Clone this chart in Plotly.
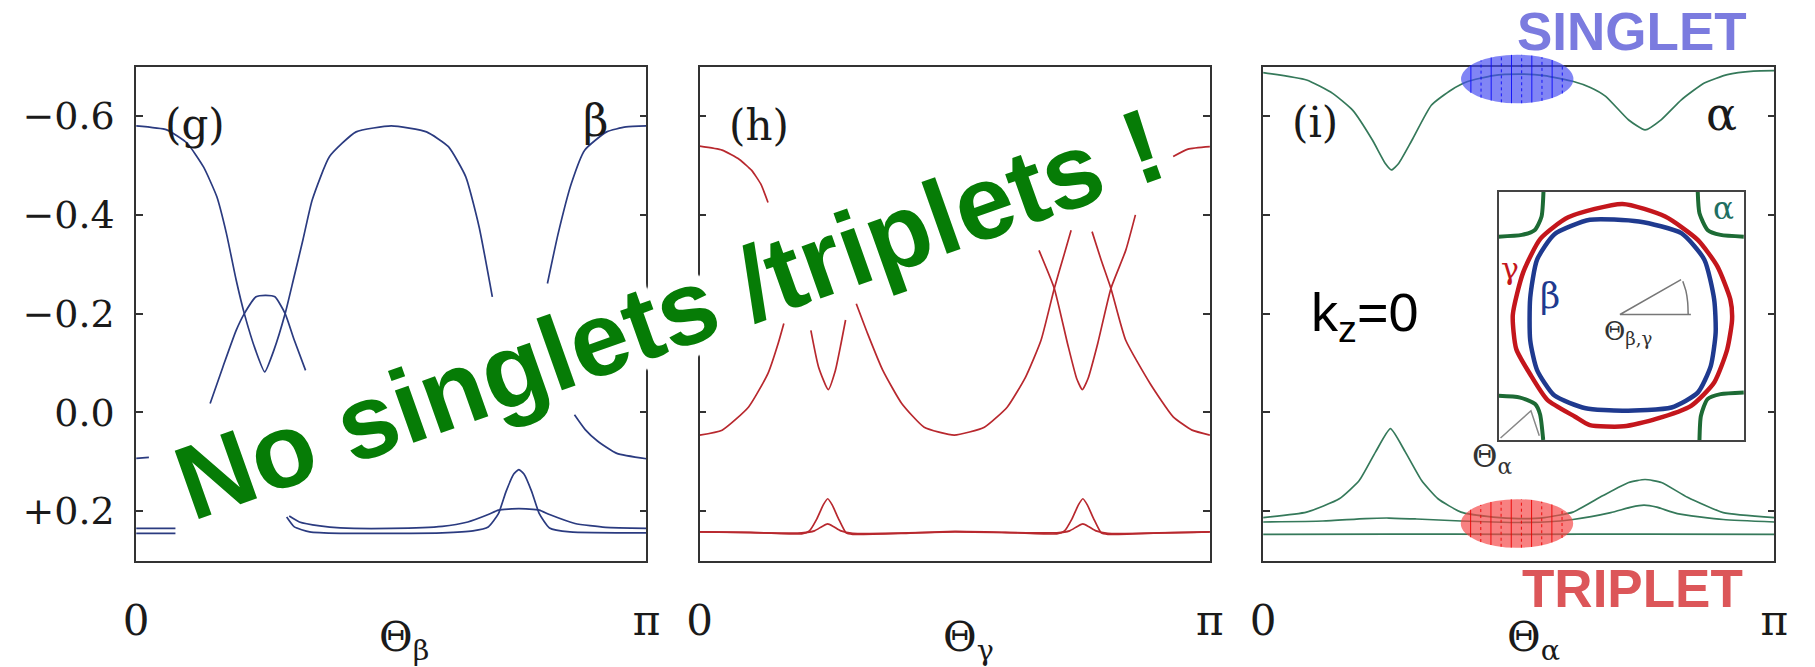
import numpy as np
import plotly.graph_objects as go

W, H = 1815, 667

# ---------------- panel (g): beta band, angle in units of pi ----------------
g_dome_t = [0, 0.06, 0.10, 0.132, 0.158, 0.177, 0.196, 0.212, 0.234, 0.252, 0.270, 0.292,
            0.308, 0.327, 0.345, 0.379, 0.431, 0.5, 0.569, 0.612, 0.646, 0.672, 0.698]
g_dome_E = [-0.58, -0.572, -0.545, -0.497, -0.437, -0.362, -0.268, -0.2, -0.126, -0.082, -0.126, -0.2,
            -0.268, -0.35, -0.43, -0.518, -0.568, -0.58, -0.568, -0.538, -0.477, -0.376, -0.234]
g_dome_right_t = [0.806, 0.827, 0.853, 0.879, 0.922, 0.96, 1.0]
g_dome_right_E = [-0.261, -0.362, -0.464, -0.531, -0.568, -0.578, -0.58]
g_bump_t = [0.145, 0.170, 0.196, 0.212, 0.235, 0.254, 0.272, 0.292, 0.31, 0.332]
g_bump_E = [-0.018, -0.092, -0.166, -0.2, -0.234, -0.237, -0.234, -0.2, -0.146, -0.085]
g_low_right_t = [0.859, 0.88, 0.904, 0.942, 1.0]
g_low_right_E = [0.005, 0.035, 0.058, 0.083, 0.094]
g_low_left_t = [0, 0.025]
g_low_left_E = [0.093, 0.091]
g_flat_stub_t = [0, 0.077]
g_flat_a_stub_E = [0.235, 0.235]
g_flat_b_stub_E = [0.245, 0.245]
g_flat_a_t = [0.30, 0.32, 0.36, 0.40, 0.50, 0.60, 0.65, 0.69, 0.71, 0.75, 0.79, 0.81, 0.86, 0.92, 1.0]
g_flat_a_E = [0.210, 0.222, 0.230, 0.234, 0.235, 0.231, 0.222, 0.207, 0.198, 0.195, 0.198, 0.207,
              0.225, 0.233, 0.235]
g_flat_b_t = [0.295, 0.31, 0.34, 0.40, 0.50, 0.60, 0.66, 0.69, 0.71, 0.725, 0.74, 0.75, 0.76,
              0.775, 0.79, 0.81, 0.85, 1.0]
g_flat_b_E = [0.212, 0.232, 0.242, 0.245, 0.245, 0.244, 0.240, 0.232, 0.205, 0.160, 0.125, 0.116,
              0.125, 0.160, 0.205, 0.234, 0.242, 0.244]

# ---------------- panel (h): gamma band ----------------
h_top_left_t = [0, 0.044, 0.078, 0.102, 0.120, 0.134]
h_top_left_E = [-0.539, -0.531, -0.512, -0.490, -0.462, -0.425]
h_top_right_t = [0.928, 0.957, 1.0]
h_top_right_E = [-0.518, -0.533, -0.538]
h_u_left_t = [0, 0.044, 0.096, 0.134, 0.154, 0.165]
h_u_left_E = [0.046, 0.036, -0.011, -0.079, -0.14, -0.18]
h_v1_t = [0.218, 0.233, 0.252, 0.266, 0.277, 0.286]
h_v1_E = [-0.166, -0.092, -0.046, -0.085, -0.139, -0.187]
h_u_mid_t = [0.307, 0.329, 0.359, 0.396, 0.440, 0.499, 0.558, 0.603, 0.639, 0.669, 0.695, 0.713, 0.728]
h_u_mid_E = [-0.220, -0.160, -0.085, -0.018, 0.030, 0.046, 0.030, -0.011, -0.072, -0.146, -0.251,
             -0.315, -0.369]
h_v2_t = [0.665, 0.695, 0.721, 0.739, 0.750, 0.761, 0.780, 0.806, 0.835, 0.854]
h_v2_E = [-0.328, -0.251, -0.139, -0.068, -0.046, -0.068, -0.139, -0.251, -0.328, -0.40]
h_u_right_t = [0.769, 0.787, 0.806, 0.835, 0.883, 0.928, 0.965, 1.0]
h_u_right_E = [-0.366, -0.308, -0.251, -0.146, -0.058, 0.009, 0.036, 0.046]
h_peak_t = [0, 0.10, 0.20, 0.215, 0.230, 0.242, 0.251, 0.260, 0.272, 0.287, 0.30, 0.40, 0.50, 0.60,
            0.70, 0.715, 0.730, 0.742, 0.751, 0.760, 0.772, 0.787, 0.80, 0.90, 1.0]
h_peak_E = [0.242, 0.243, 0.246, 0.240, 0.215, 0.188, 0.175, 0.188, 0.215, 0.244, 0.247, 0.245, 0.241,
            0.243, 0.246, 0.240, 0.215, 0.188, 0.175, 0.188, 0.215, 0.244, 0.247, 0.244, 0.242]
h_small_t = [0, 0.20, 0.225, 0.240, 0.251, 0.262, 0.277, 0.30, 0.50, 0.70, 0.725, 0.740, 0.751, 0.762,
             0.777, 0.80, 1.0]
h_small_E = [0.242, 0.244, 0.240, 0.231, 0.226, 0.231, 0.240, 0.245, 0.242, 0.244, 0.240, 0.231, 0.226,
             0.231, 0.240, 0.245, 0.242]

# ---------------- panel (i): alpha band ----------------
i_top_t = [0, 0.085, 0.136, 0.175, 0.214, 0.239, 0.251, 0.265, 0.291, 0.329, 0.368, 0.40, 0.45, 0.50,
           0.55, 0.607, 0.64, 0.67, 0.715, 0.747, 0.779, 0.818, 0.863, 0.908, 0.959, 1.0]
i_top_E = [-0.688, -0.673, -0.646, -0.612, -0.551, -0.504, -0.491, -0.504, -0.551, -0.622, -0.653,
           -0.670, -0.682, -0.685, -0.682, -0.670, -0.658, -0.640, -0.592, -0.572, -0.593, -0.633,
           -0.667, -0.684, -0.691, -0.692]
i_mid_t = [0, 0.085, 0.149, 0.188, 0.22, 0.249, 0.278, 0.31, 0.342, 0.387, 0.45, 0.5, 0.55, 0.606,
           0.664, 0.715, 0.747, 0.779, 0.83, 0.9, 1.0]
i_mid_E = [0.213, 0.202, 0.175, 0.138, 0.080, 0.033, 0.080, 0.138, 0.175, 0.202, 0.212, 0.215, 0.213,
           0.202, 0.169, 0.142, 0.136, 0.142, 0.172, 0.203, 0.213]
i_low_t = [0, 0.117, 0.2, 0.246, 0.3, 0.387, 0.45, 0.5, 0.55, 0.606, 0.68, 0.72, 0.745, 0.77, 0.81,
           0.9, 1.0]
i_low_E = [0.222, 0.220, 0.215, 0.214, 0.216, 0.220, 0.222, 0.223, 0.222, 0.217, 0.203, 0.192, 0.188,
           0.192, 0.205, 0.217, 0.222]
i_base_t = [0, 0.25, 0.5, 0.75, 1.0]
i_base_E = [0.247, 0.2465, 0.247, 0.2465, 0.247]

# ---------------- inset: Fermi surface sketch (unit box) ----------------
fs_gamma_u = [0.505, 0.679, 0.812, 0.892, 0.945, 0.952, 0.932, 0.879, 0.785, 0.639, 0.510, 0.372,
              0.312, 0.199, 0.129, 0.072, 0.058, 0.100, 0.171, 0.284, 0.505]
fs_gamma_w = [0.952, 0.901, 0.807, 0.700, 0.566, 0.486, 0.365, 0.232, 0.138, 0.084, 0.055, 0.060,
              0.094, 0.162, 0.265, 0.367, 0.504, 0.675, 0.812, 0.898, 0.952]
fs_beta_u = [0.372, 0.572, 0.745, 0.839, 0.879, 0.885, 0.865, 0.812, 0.705, 0.505, 0.355, 0.228,
             0.157, 0.129, 0.129, 0.157, 0.228, 0.372]
fs_beta_w = [0.888, 0.881, 0.834, 0.727, 0.566, 0.433, 0.298, 0.191, 0.131, 0.118, 0.128, 0.179,
             0.282, 0.402, 0.573, 0.727, 0.830, 0.888]
fs_alpha_tl_u = [0.0, 0.095, 0.148, 0.175, 0.183]
fs_alpha_tl_w = [0.820, 0.827, 0.847, 0.900, 1.0]
fs_alpha_tr_u = [0.812, 0.819, 0.852, 0.905, 1.0]
fs_alpha_tr_w = [1.0, 0.914, 0.847, 0.827, 0.820]
fs_alpha_bl_u = [0.0, 0.088, 0.149, 0.169, 0.182]
fs_alpha_bl_w = [0.178, 0.171, 0.145, 0.104, 0.0]
fs_alpha_br_u = [0.819, 0.825, 0.852, 0.905, 1.0]
fs_alpha_br_w = [0.0, 0.098, 0.165, 0.185, 0.192]
fs_angle_bg_u = [0.744, 0.495, 0.784]
fs_angle_bg_w = [0.647, 0.506, 0.506]
fs_arc_bg_u = [0.751, 0.764, 0.771, 0.773]
fs_arc_bg_w = [0.640, 0.600, 0.555, 0.506]
fs_angle_a_u = [0.008, 0.132, 0.166]
fs_angle_a_w = [0.008, 0.118, 0.017]

BLUE = "#2b3b80"
RED = "#b8282e"
GREEN = "#35795a"
AX = "#333333"
TXT = "#1a1a1a"
SERIF = "DejaVu Serif"
SANS = "Liberation Sans"

fig = go.Figure()


def curve(panel, t, e, color, width=1.7):
    suffix = "" if panel == 1 else str(panel)
    fig.add_trace(go.Scatter(
        x=np.asarray(t) * np.pi, y=e, mode="lines",
        line=dict(color=color, width=width, shape="spline", smoothing=0.5),
        xaxis="x" + suffix, yaxis="y" + suffix, hoverinfo="skip", showlegend=False))


def inset(u, w, color, width, shape="spline"):
    fig.add_trace(go.Scatter(
        x=u, y=w, mode="lines", line=dict(color=color, width=width, shape=shape, smoothing=0.6),
        xaxis="x4", yaxis="y4", hoverinfo="skip", showlegend=False))


for t, e in [(g_dome_t, g_dome_E), (g_dome_right_t, g_dome_right_E), (g_bump_t, g_bump_E),
             (g_low_right_t, g_low_right_E), (g_low_left_t, g_low_left_E),
             (g_flat_stub_t, g_flat_a_stub_E), (g_flat_stub_t, g_flat_b_stub_E),
             (g_flat_a_t, g_flat_a_E), (g_flat_b_t, g_flat_b_E)]:
    curve(1, t, e, BLUE)

for t, e in [(h_top_left_t, h_top_left_E), (h_top_right_t, h_top_right_E), (h_u_left_t, h_u_left_E),
             (h_v1_t, h_v1_E), (h_u_mid_t, h_u_mid_E), (h_v2_t, h_v2_E), (h_u_right_t, h_u_right_E),
             (h_peak_t, h_peak_E), (h_small_t, h_small_E)]:
    curve(2, t, e, RED)

for t, e in [(i_top_t, i_top_E), (i_mid_t, i_mid_E), (i_low_t, i_low_E), (i_base_t, i_base_E)]:
    curve(3, t, e, GREEN)

inset(fs_gamma_u, fs_gamma_w, "#c4161c", 4.5)
inset(fs_beta_u, fs_beta_w, "#1f3a8f", 4.5)
for u, w in [(fs_alpha_tl_u, fs_alpha_tl_w), (fs_alpha_tr_u, fs_alpha_tr_w),
             (fs_alpha_bl_u, fs_alpha_bl_w), (fs_alpha_br_u, fs_alpha_br_w)]:
    inset(u, w, "#1d6b35", 4.0)
inset(fs_angle_bg_u, fs_angle_bg_w, "#777777", 1.5, "linear")
inset(fs_arc_bg_u, fs_arc_bg_w, "#777777", 1.5)
inset(fs_angle_a_u, fs_angle_a_w, "#888888", 1.5, "linear")

# ---------------- axes ----------------
plot_top, plot_bot = 66.7, 560.5
ydom = [1 - plot_bot / H, 1 - plot_top / H]
panels_px = [(125, 643), (697, 1215), (1269, 1788)]

layout_axes = {}
for k, (xl, xr) in enumerate(panels_px, start=1):
    s = "" if k == 1 else str(k)
    layout_axes["xaxis" + s] = dict(
        domain=[xl / W, xr / W], anchor="y" + s, range=[0, np.pi],
        tickvals=[0, np.pi], ticktext=["0", "π"], ticks="", showline=True, mirror=True,
        linecolor=AX, linewidth=1.6, showgrid=False, zeroline=False,
        tickfont=dict(family=SERIF, size=42, color=TXT), ticklabelstandoff=22)
    layout_axes["yaxis" + s] = dict(
        domain=ydom, anchor="x" + s, range=[0.30, -0.70],
        tickvals=[-0.6, -0.4, -0.2, 0.0, 0.2],
        ticktext=["−0.6", "−0.4", "−0.2", "0.0", "+0.2"],
        showticklabels=(k == 1), ticks="inside", ticklen=7, tickwidth=1.5, tickcolor=AX,
        showline=True, mirror="ticks", linecolor=AX, linewidth=1.6, showgrid=False,
        zeroline=False, tickfont=dict(family=SERIF, size=38, color=TXT), ticklabelstandoff=12)

layout_axes["xaxis4"] = dict(domain=[1508 / W, 1757 / W], anchor="y4", range=[0, 1],
                             showline=True, mirror=True, linecolor="#444", linewidth=1.5,
                             showticklabels=False, ticks="", showgrid=False, zeroline=False)
layout_axes["yaxis4"] = dict(domain=[1 - 440 / H, 1 - 192 / H], anchor="x4", range=[0, 1],
                             showline=True, mirror=True, linecolor="#444", linewidth=1.5,
                             showticklabels=False, ticks="", showgrid=False, zeroline=False)

# ---------------- texts ----------------
def P(x, y):
    return dict(x=x / W, y=1 - y / H, xref="paper", yref="paper")


annotations = []


def label(text, x, y, size, color=TXT, family=SERIF, xanchor="center", yanchor="middle", **kw):
    annotations.append(dict(text=text, showarrow=False, xanchor=xanchor, yanchor=yanchor,
                            font=dict(family=family, size=size, color=color, **kw), **P(x, y)))


label("(g)", 185, 125, 42)
label("β", 591, 120, 44)
label("(h)", 757, 126, 42)
label("(i)", 1322, 122, 42)
label("α", 1734, 114, 46)

for (xl, xr), sub in zip(panels_px, ["β", "γ", "α"]):
    label("Θ<sub>%s</sub>" % sub, (xl + xr) / 2 - 14, 640, 41, xanchor="left")

label("k<sub>z</sub>=0", 1316, 316, 54, color="#000000", family=SANS, xanchor="left")

label("γ", 1520, 268, 30, color="#c4161c")
label("β", 1560, 296, 35, color="#1f3a8f")
label("α", 1736, 208, 31, color="#1f6f62")
label("Θ<sub>β,γ</sub>", 1613, 332, 26, color="#333333", xanchor="left")
label("Θ<sub>α</sub>", 1479, 458, 31, color="#333333", xanchor="left")

label("SINGLET", 1643, 31, 53, color="#7b7bdf", family=SANS, weight="bold")
label("TRIPLET", 1644, 588, 53, color="#dc5659", family=SANS, weight="bold")

# white halo around the slanted message
halo = []
for r in (3, 6, 9, 12):
    for a in np.linspace(0, 2 * np.pi, 16, endpoint=False):
        halo.append("%.1fpx %.1fpx 2px #ffffff" % (r * np.cos(a), r * np.sin(a)))
annotations.append(dict(text="No singlets /triplets !", showarrow=False, textangle=-19.5,
                        xanchor="center", yanchor="middle",
                        font=dict(family=SANS, size=105, color="#067c06", weight="bold",
                                  shadow=", ".join(halo)),
                        **P(666, 313)))

# ---------------- highlight ellipses on panel (i) ----------------
shapes = []
ell_a, ell_b = 57 / 518.5, 24.3 / 493.8


def ellipse(cx, cy, fill, stripe):
    shapes.append(dict(type="circle", xref="x3 domain", yref="y3 domain",
                       x0=cx - ell_a, x1=cx + ell_a, y0=cy - ell_b, y1=cy + ell_b,
                       fillcolor=fill, line=dict(width=0), layer="above"))
    for k in range(10):
        dx = (-47 + 10.3 * k) / 518.5
        hh = ell_b * np.sqrt(max(0.0, 1 - (dx / ell_a) ** 2))
        shapes.append(dict(type="line", xref="x3 domain", yref="y3 domain",
                           x0=cx + dx, x1=cx + dx, y0=cy - hh, y1=cy + hh, layer="above",
                           line=dict(color=stripe, width=1, dash="solid" if k % 2 == 0 else "dot")))


ellipse(0.497, 0.30 + 0.675, "rgba(70,75,240,0.68)", "rgba(10,10,250,0.9)")
ellipse(0.4965, 0.30 - 0.225, "rgba(245,70,70,0.68)", "rgba(235,0,0,0.9)")

fig.update_layout(width=W, height=H, margin=dict(l=0, r=0, t=0, b=0),
                  paper_bgcolor="white", plot_bgcolor="rgba(0,0,0,0)",
                  showlegend=False, annotations=annotations, shapes=shapes, **layout_axes)

fig.write_html("out.html")
